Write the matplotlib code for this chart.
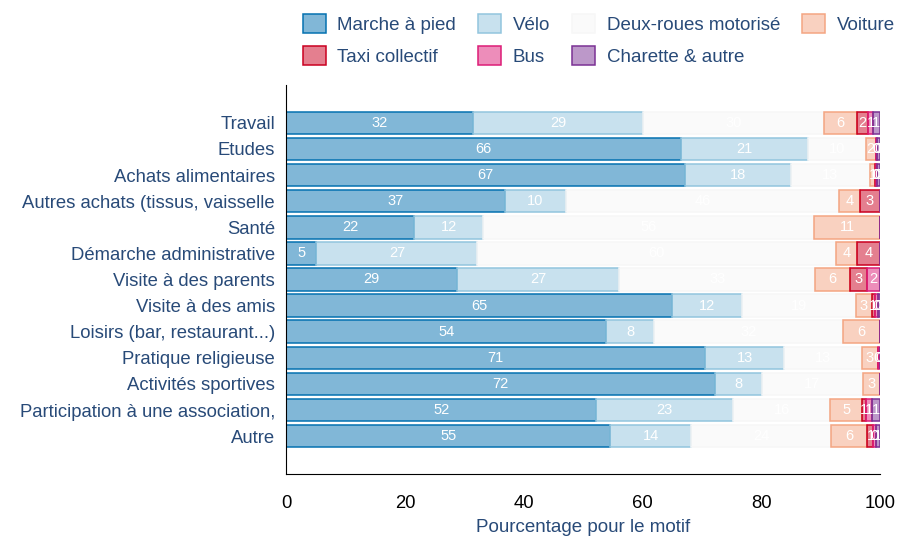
import matplotlib
matplotlib.use("Agg")
import matplotlib.pyplot as plt
from matplotlib.patches import Patch

# motifs (rows, top to bottom)
motifs = [
    "Travail", "Etudes", "Achats alimentaires", "Autres achats (tissus, vaisselle",
    "Santé", "Démarche administrative", "Visite à des parents", "Visite à des amis",
    "Loisirs (bar, restaurant...)", "Pratique religieuse", "Activités sportives",
    "Participation à une association,", "Autre",
]

modes = ["Marche à pied", "Vélo", "Deux-roues motorisé", "Voiture",
         "Taxi collectif", "Bus", "Charette & autre"]

# share of each mode (%) per motif
marche = [31.5, 66.5, 67.2, 36.9, 21.6, 5.1, 28.8, 65.0, 53.9, 70.6, 72.2, 52.2, 54.6]
velo = [28.6, 21.4, 17.8, 10.2, 11.6, 27.1, 27.3, 11.8, 8.1, 13.2, 7.9, 23.1, 13.6]
deux_roues = [30.5, 9.7, 13.3, 46.0, 55.7, 60.4, 33.0, 19.2, 31.8, 13.1, 17.0, 16.3, 23.6]
voiture = [5.5, 1.7, 0.9, 3.5, 11.1, 3.6, 5.9, 2.6, 6.2, 2.7, 2.9, 5.4, 6.1]
taxi = [1.9, 0.1, 0.1, 3.4, 0, 3.8, 2.9, 0.6, 0, 0.1, 0, 0.6, 1.0]
bus = [0.8, 0.1, 0.2, 0, 0, 0, 2.1, 0.4, 0, 0.3, 0, 1.0, 0.4]
charette = [1.2, 0.5, 0.5, 0, 0, 0, 0, 0.4, 0, 0, 0, 1.4, 0.7]

series = [marche, velo, deux_roues, voiture, taxi, bus, charette]
colors = ["#0571b0", "#92c5de", "#f7f7f7", "#f4a582", "#ca0020", "#dd1c77", "#7b3294"]

text_col = "#284a78"
plt.rcParams["font.family"] = ["Liberation Sans", "DejaVu Sans"]

fig = plt.figure(figsize=(8.97, 5.38), dpi=100)
ax = fig.add_axes([0.319, 0.119, 0.662, 0.723])

ypos = list(range(len(motifs)))
left = [0.0] * len(motifs)
handles = []
for name, vals, col in zip(modes, series, colors):
    bars = ax.barh(ypos, vals, left=left, height=0.86,
                   color=matplotlib.colors.to_rgba(col, 0.5),
                   edgecolor=col, linewidth=1.1)
    for b, v in zip(bars, vals):
        if v > 0:
            ax.text(b.get_x() + b.get_width() / 2, b.get_y() + b.get_height() / 2,
                    f"{round(v)}", ha="center", va="center",
                    color="white", fontsize=10.5)
    left = [l + v for l, v in zip(left, vals)]
    handles.append(Patch(facecolor=matplotlib.colors.to_rgba(col, 0.5),
                         edgecolor=col, linewidth=1.1, label=name))

ax.set_xlim(0, 100)
ax.set_ylim(len(motifs) - 1 + 1.45, -1.45)
ax.set_yticks(ypos)
ax.set_yticklabels(motifs, color=text_col, fontsize=13.3)
ax.set_xticks([0, 20, 40, 60, 80, 100])
ax.tick_params(axis="x", length=0, pad=15, labelsize=13.3)
ax.tick_params(axis="y", length=0, pad=8)
ax.spines["top"].set_visible(False)
ax.spines["right"].set_visible(False)
ax.set_xlabel("Pourcentage pour le motif", color=text_col, fontsize=13.5, labelpad=5)

# legend: column-major order so rows read left to right
order = [0, 4, 1, 5, 2, 6, 3]
fig.legend([handles[i] for i in order], [modes[i] for i in order],
           loc="upper left", bbox_to_anchor=(0.319, 1.006), ncol=4, frameon=False,
           fontsize=13.5, labelcolor=text_col, handlelength=1.2, handleheight=1.2,
           columnspacing=1.2, handletextpad=0.62, labelspacing=0.66)

fig.savefig("out.png", dpi=100)
